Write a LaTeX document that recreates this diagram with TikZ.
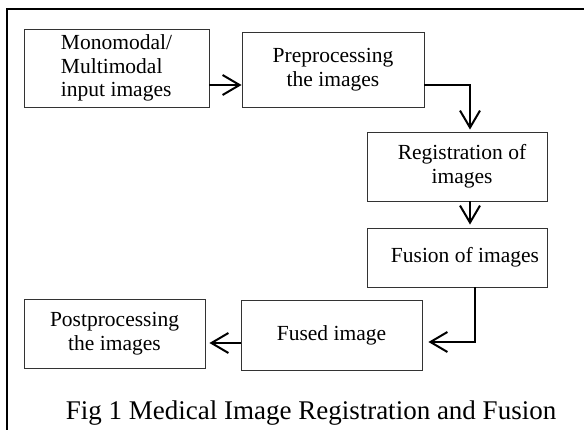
\documentclass[tikz,border=0pt]{standalone}
\usepackage{fontspec}
\setmainfont{Liberation Serif}
\usetikzlibrary{arrows.meta}
\begin{document}
\begin{tikzpicture}[x=1pt,y=-1pt,
  box/.style={draw=black!80, line width=0.9pt, inner sep=0pt, align=center,
    font=\fontsize{21.5}{23.5}\selectfont},
  arr/.style={line width=2pt, -{Straight Barb[length=17pt,width=20pt]}},
  frame/.style={line width=2.5pt}]
\useasboundingbox (0,0) rectangle (584,430);
\draw[frame] (584,9) -- (7,9) -- (7,430);
\node[box, minimum width=185pt, minimum height=78pt, align=left] (b1) at (116.5,68)
  {Monomodal/\\Multimodal\\input images};
\node[box, minimum width=182pt, minimum height=75pt] (b2) at (333,69.5)
  {Preprocessing\\the images};
\node[box, minimum width=180pt, minimum height=69pt] (b3) at (457,166.5)
  {\hspace*{10pt}Registration of\\\hspace*{10pt}images};
\node[box, minimum width=180pt, minimum height=59pt] (b4) at (457,257.5)
  {\hspace*{16pt}Fusion of images};
\node[box, minimum width=181pt, minimum height=70pt] (b5) at (331.5,335)
  {Fused image};
\node[box, minimum width=181pt, minimum height=69pt] (b6) at (114.5,333.5)
  {Postprocessing\\the images};
\draw[arr] (b1.east |- 0,85) -- (b2.west |- 0,85);
\draw[arr, shorten >=2pt] (b2.east |- 0,85) -| ([xshift=13pt]b3.north);
\draw[arr, shorten >=3pt] ([xshift=13pt]b3.south) -- ([xshift=13pt]b4.north);
\draw[arr, shorten >=6pt] ([xshift=18pt]b4.south) |- (b5.east |- 0,342);
\draw[arr, shorten >=4pt] (b5.west |- 0,343) -- (b6.east |- 0,343);
\node[anchor=base, inner sep=0pt, font=\fontsize{27}{30}\selectfont] (cap) at (311,419)
  {Fig 1 Medical Image Registration and Fusion};
\end{tikzpicture}
\end{document}
